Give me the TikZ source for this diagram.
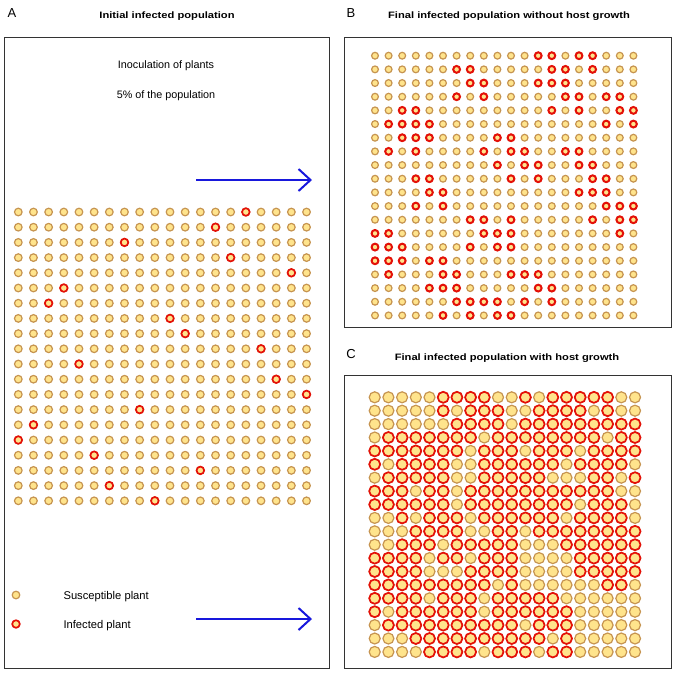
\documentclass[tikz,border=0pt]{standalone}
\usepackage{fontspec}
\usepackage{graphicx}
\setmainfont{Liberation Sans}
\usetikzlibrary{arrows.meta}
\definecolor{sfill}{RGB}{255,228,140}
\definecolor{sring}{RGB}{198,148,80}
\definecolor{iring}{RGB}{228,16,8}
\definecolor{arrowblue}{RGB}{24,24,220}
\newcommand{\widetitle}[1]{\scalebox{1.2}[1]{#1}}
\begin{document}
\begin{tikzpicture}[x=1pt,y=-1pt,
  panel/.style={draw=black!80, line width=0.9pt},
  susA/.style={draw=sring, fill=sfill, line width=1.2pt},
  infA/.style={draw=iring, fill=sfill, line width=1.7pt},
  susB/.style={draw=sring, fill=sfill, line width=1.2pt},
  infB/.style={draw=iring, fill=sfill, line width=2.0pt},
  susC/.style={draw=sring, fill=sfill, line width=1.2pt},
  infC/.style={draw=iring, fill=sfill, line width=1.7pt},
  ptitle/.style={font=\bfseries\fontsize{9.3}{10}\selectfont, anchor=base},
  plabel/.style={font=\fontsize{13}{14}\selectfont, anchor=base},
  ptext/.style={font=\fontsize{10.8}{12}\selectfont, anchor=base},
  legtext/.style={font=\fontsize{11.2}{12}\selectfont, anchor=base west},
  bluearrow/.style={draw=arrowblue, line width=2pt,
    -{Straight Barb[length=12pt,width=22pt,line width=2pt]}}]
\useasboundingbox (0,0) rectangle (676,673);
\fill[white] (0,0) rectangle (676,673);

% panel boxes
\draw[panel] (4,37) rectangle (329,668);
\draw[panel] (344,37) rectangle (671,327);
\draw[panel] (344,375) rectangle (671,668);

% panel letters and titles
\node[plabel] (labA) at (12,17) {A};
\node[plabel] (labB) at (351,17) {B};
\node[plabel] (labC) at (351,358) {C};
\node[ptitle] (titA) at (167,18.5) {\widetitle{Initial infected population}};
\node[ptitle] (titB) at (509,18.5) {\widetitle{Final infected population without host growth}};
\node[ptitle] (titC) at (507,360) {\widetitle{Final infected population with host growth}};

% panel A text
\node[ptext] (inoc) at (166,68) {Inoculation of plants};
\node[ptext] (pct) at (166,98) {5\% of the population};

% arrows
\coordinate (a1s) at (196,180);
\coordinate (a1e) at (312,180);
\coordinate (a2s) at (196,619);
\coordinate (a2e) at (312,619);
\draw[bluearrow] (a1s) -- (a1e);
\draw[bluearrow] (a2s) -- (a2e);

% grid A
\foreach \i in {0,...,19}
  \foreach \j in {0,...,19}
    \draw[susA] ({18.3+15.17*\i},{212+15.2*\j}) circle (3.8pt);
\foreach \r/\c in {1/16,2/14,3/8,4/15,5/19,6/4,7/3,8/11,9/12,10/17,
                   11/5,12/18,13/20,14/9,15/2,16/1,17/6,18/13,19/7,20/10}
  \draw[infA] ({18.3+15.17*(\c-1)},{212+15.2*(\r-1)}) circle (3.8pt);

% legend
\draw[susA] (16,595) circle (3.8pt);
\draw[infA] (16,624) circle (3.8pt);
\node[legtext] (legS) at (60,599) {Susceptible plant};
\node[legtext] (legI) at (60,628) {Infected plant};

% grid B
\foreach \i in {0,...,19}
  \foreach \j in {0,...,19}
    \draw[susB] ({375+13.6*\i},{55.7+13.67*\j}) circle (3.4pt);
\foreach \r/\cl in {1/{13,14,16,17},2/{7,8,14,15,17},3/{8,9,13,14,15},
  4/{7,9,15,16,18,19},5/{3,4,14,16,19,20},6/{2,3,4,5,18,20},
  7/{3,4,5,10,11},8/{2,4,9,11,12,15,16},9/{10,12,13,16,17},
  10/{4,5,11,13,17,18},11/{5,6,16,17,18},12/{4,6,18,19,20},
  13/{8,9,11,17,19,20},14/{1,2,9,10,11,19},15/{1,2,3,8,10,11},
  16/{1,2,3,5,6},17/{2,6,7,11,12,13},18/{5,6,7,13,14},
  19/{7,8,9,10,12,14},20/{6,8,10,11}}
  \foreach \c in \cl
    \draw[infB] ({375+13.6*(\c-1)},{55.7+13.67*(\r-1)}) circle (3.4pt);

% grid C
\foreach \i in {0,...,19}
  \foreach \j in {0,...,19}
    \draw[susC] ({374.7+13.7*\i},{397.3+13.4*\j}) circle (5.5pt);
\foreach \r/\cl in {1/{6,7,8,9,12,14,15,16,17,18},
  2/{6,8,9,10,13,14,15,16,18},
  3/{7,8,9,10,12,13,14,15,16,17,18,19,20},
  4/{2,3,4,5,6,7,8,10,11,12,13,14,15,16,17,19,20},
  5/{1,2,3,4,5,6,7,9,10,11,13,14,15,17,18,19,20},
  6/{1,3,4,5,6,9,10,11,12,13,14,16,17,18,19},
  7/{2,3,4,5,6,9,10,11,12,13,17,18,20},
  8/{1,2,3,5,6,8,9,10,11,12,13,14,15,16,17,18},
  9/{1,2,3,4,5,6,8,9,10,11,12,13,14,15,17,18,19},
  10/{3,5,6,7,9,10,11,12,13,14,16,17,18,19},
  11/{4,5,6,7,10,11,13,14,15,16,17,18,19,20},
  12/{3,4,5,7,8,9,10,11,15,16,17,18,19,20},
  13/{1,2,3,4,6,7,9,10,11,16,17,18,19,20},
  14/{1,2,3,4,8,9,10,11,16,17,18,19,20},
  15/{1,2,3,4,5,6,7,8,9,11,18,19},
  16/{1,2,3,4,6,7,8,10,11,12,13,14},
  17/{1,3,4,5,6,7,8,10,11,12,13,14,15},
  18/{2,3,4,5,6,7,8,9,10,11,13,14,15},
  19/{4,5,6,7,8,9,10,11,12,13,15},
  20/{5,6,7,8,10,11,12,14,15}}
  \foreach \c in \cl
    \draw[infC] ({374.7+13.7*(\c-1)},{397.3+13.4*(\r-1)}) circle (5.5pt);
\end{tikzpicture}
\end{document}
